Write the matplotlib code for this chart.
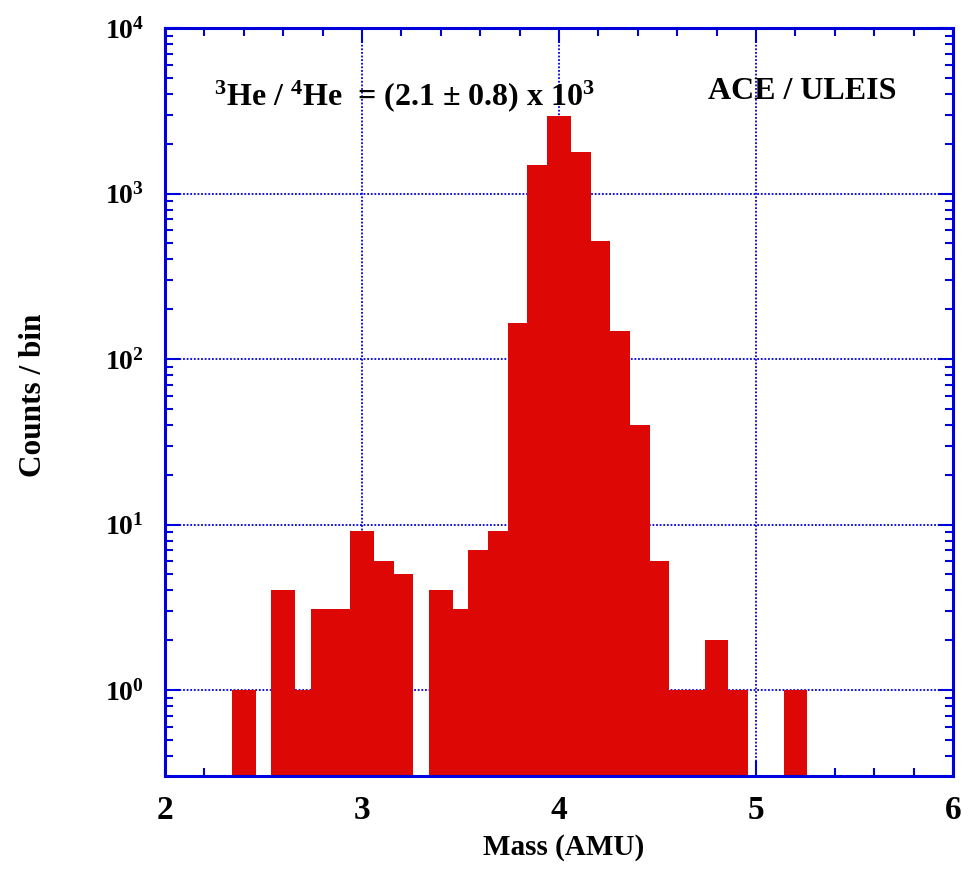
import math
import matplotlib
matplotlib.use("Agg")
import matplotlib.pyplot as plt
from matplotlib.ticker import FixedLocator, LogLocator, NullFormatter, FuncFormatter

# ---- data ----
mass_centers = [2.4, 2.6, 2.7, 2.8, 2.9, 3.0, 3.1, 3.2, 3.4, 3.5, 3.6, 3.7,
                3.8, 3.9, 4.0, 4.1, 4.2, 4.3, 4.4, 4.5, 4.6, 4.7, 4.8, 4.9, 5.2]
counts = [1, 4, 1, 3.1, 3.1, 9.2, 6, 5, 4, 3.1, 7, 9.2,
          166, 1480, 2950, 1780, 517, 147, 40, 6, 1, 1, 2, 1, 1]
x_major = [2, 3, 4, 5, 6]
x_minor = [2.2, 2.4, 2.6, 2.8, 3.2, 3.4, 3.6, 3.8, 4.2, 4.4, 4.6, 4.8,
           5.2, 5.4, 5.6, 5.8]
y_major = [1, 10, 100, 1000, 10000]

BLUE = "#0000dd"
RED = "#dd0806"
FONT = "Liberation Serif"

plt.rcParams["font.family"] = [FONT, "DejaVu Serif"]
plt.rcParams["font.weight"] = "bold"
plt.rcParams["mathtext.fontset"] = "custom"
plt.rcParams["mathtext.rm"] = FONT + ":bold"
plt.rcParams["mathtext.bf"] = FONT + ":bold"
plt.rcParams["mathtext.it"] = FONT + ":bold"
plt.rcParams["mathtext.default"] = "bf"

W, H = 968, 869
fig = plt.figure(figsize=(W / 100, H / 100), dpi=100)
L, R, T, B = 165, 953, 28, 776
ax = fig.add_axes([L / W, (H - B) / H, (R - L) / W, (B - T) / H])

ax.set_yscale("log")
ax.set_xlim(2, 6)
ax.set_ylim(0.303, 1e4)

ax.bar(mass_centers, counts, width=0.12, color=RED, linewidth=0, zorder=2)

# grid
for xv in x_major[1:-1]:
    ax.axvline(xv, color=BLUE, linestyle=(0, (1, 1.0)), linewidth=1.3, zorder=1)
for yv in y_major[:-1]:
    ax.axhline(yv, color=BLUE, linestyle=(0, (1, 1.0)), linewidth=1.3, zorder=1)

for s in ax.spines.values():
    s.set_color(BLUE)
    s.set_linewidth(2.2)
    s.set_zorder(3)

ax.xaxis.set_major_locator(FixedLocator(x_major))
ax.xaxis.set_minor_locator(FixedLocator(x_minor))
ax.yaxis.set_major_locator(FixedLocator(y_major))
ax.yaxis.set_minor_locator(LogLocator(base=10, subs=range(2, 10)))
ax.yaxis.set_minor_formatter(NullFormatter())
ax.yaxis.set_major_formatter(FuncFormatter(lambda v, p: r"$\mathbf{10^{%d}}$" % round(math.log10(v))))
ax.xaxis.set_major_formatter(FuncFormatter(lambda v, p: "%d" % v))

ax.tick_params(axis="both", which="both", direction="in", color=BLUE,
               top=True, right=True, width=1.5)
ax.tick_params(axis="both", which="minor", length=6)
ax.tick_params(axis="both", which="major", length=10.5)
ax.tick_params(axis="x", which="major", labelsize=24, pad=14)
ax.tick_params(axis="y", which="major", labelsize=20, pad=15)
for lab in ax.get_xticklabels() + ax.get_yticklabels():
    lab.set_fontweight("bold")

fig.text(564 / W, (H - 855) / H, "Mass (AMU)", ha="center", va="baseline",
         fontsize=21, fontweight="bold")
fig.text(34 / W, (H - 395) / H, "Counts / bin", ha="center", va="center",
         rotation=90, fontsize=22.5, fontweight="bold")

fig.text(214 / W, (H - 105) / H,
         r"$^{3}$He / $^{4}$He  = (2.1 ± 0.8) x 10$^{3}$",
         ha="left", va="baseline", fontsize=23, fontweight="bold")
fig.text(708 / W, (H - 99) / H, "ACE / ULEIS", ha="left", va="baseline",
         fontsize=23, fontweight="bold")

fig.savefig("out.png", dpi=100)
